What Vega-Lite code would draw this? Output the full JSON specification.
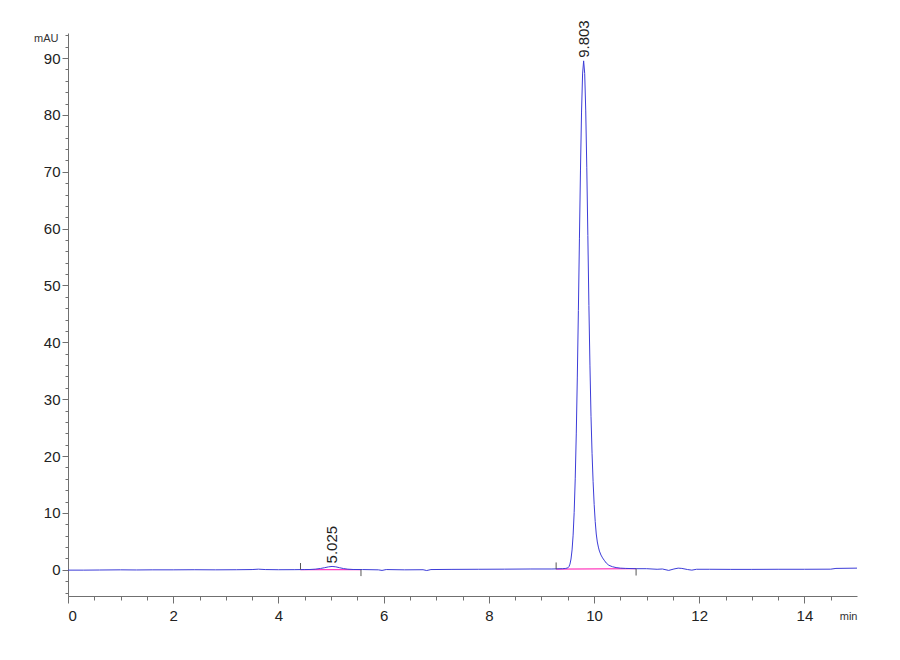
{
  "$schema": "https://vega.github.io/schema/vega-lite/v6.json",
  "width": 789,
  "height": 563,
  "autosize": {"type": "none"},
  "padding": {"left": 68, "top": 33, "right": 43, "bottom": 64},
  "background": "white",
  "config": {
    "view": {"stroke": null},
    "font": "Liberation Sans",
    "axis": {
      "grid": false,
      "domainColor": "#707070",
      "tickColor": "#707070",
      "labelColor": "#222222",
      "labelFont": "Liberation Sans",
      "labelFontSize": 15,
      "titleFont": "Liberation Sans",
      "titleFontSize": 11,
      "titleFontWeight": "normal",
      "titleColor": "#333333"
    }
  },
  "datasets": {
    "trace": [
      {"t": 0.0, "mau": -0.05}, {"t": 0.3, "mau": -0.05}, {"t": 0.6, "mau": -0.03},
      {"t": 1.0, "mau": 0.0}, {"t": 1.3, "mau": -0.02}, {"t": 1.6, "mau": 0.0},
      {"t": 2.0, "mau": 0.0}, {"t": 2.4, "mau": 0.02}, {"t": 2.8, "mau": 0.0},
      {"t": 3.2, "mau": 0.02}, {"t": 3.5, "mau": 0.05}, {"t": 3.62, "mau": 0.12},
      {"t": 3.75, "mau": 0.05}, {"t": 4.0, "mau": 0.02}, {"t": 4.3, "mau": 0.03},
      {"t": 4.5, "mau": 0.05}, {"t": 4.6, "mau": 0.06}, {"t": 4.7, "mau": 0.12},
      {"t": 4.8, "mau": 0.24}, {"t": 4.88, "mau": 0.38}, {"t": 4.95, "mau": 0.52},
      {"t": 5.02, "mau": 0.6}, {"t": 5.09, "mau": 0.53}, {"t": 5.16, "mau": 0.38},
      {"t": 5.24, "mau": 0.22}, {"t": 5.32, "mau": 0.12}, {"t": 5.42, "mau": 0.06},
      {"t": 5.6, "mau": 0.05}, {"t": 5.9, "mau": 0.0}, {"t": 5.97, "mau": -0.1},
      {"t": 6.05, "mau": 0.05}, {"t": 6.4, "mau": 0.0}, {"t": 6.75, "mau": 0.02},
      {"t": 6.82, "mau": -0.12}, {"t": 6.9, "mau": 0.05}, {"t": 7.3, "mau": 0.08},
      {"t": 7.8, "mau": 0.1}, {"t": 8.3, "mau": 0.12}, {"t": 8.8, "mau": 0.15},
      {"t": 9.2, "mau": 0.15}, {"t": 9.4, "mau": 0.2}, {"t": 9.463, "mau": 0.25},
      {"t": 9.503, "mau": 0.35}, {"t": 9.523, "mau": 0.55}, {"t": 9.543, "mau": 1.0},
      {"t": 9.563, "mau": 1.9}, {"t": 9.583, "mau": 3.5}, {"t": 9.603, "mau": 6.1},
      {"t": 9.623, "mau": 10.1}, {"t": 9.643, "mau": 16.0}, {"t": 9.663, "mau": 23.9},
      {"t": 9.683, "mau": 33.9}, {"t": 9.703, "mau": 45.6}, {"t": 9.723, "mau": 58.2},
      {"t": 9.743, "mau": 70.3}, {"t": 9.763, "mau": 80.5}, {"t": 9.783, "mau": 87.2},
      {"t": 9.803, "mau": 89.5}, {"t": 9.823, "mau": 87.3}, {"t": 9.843, "mau": 80.7},
      {"t": 9.863, "mau": 70.7}, {"t": 9.883, "mau": 58.8}, {"t": 9.903, "mau": 46.5},
      {"t": 9.923, "mau": 36.0}, {"t": 9.943, "mau": 27.0}, {"t": 9.963, "mau": 20.5},
      {"t": 9.983, "mau": 15.5}, {"t": 10.003, "mau": 11.5}, {"t": 10.023, "mau": 8.5},
      {"t": 10.043, "mau": 6.3}, {"t": 10.063, "mau": 4.9}, {"t": 10.083, "mau": 4.0},
      {"t": 10.103, "mau": 3.3}, {"t": 10.133, "mau": 2.6}, {"t": 10.163, "mau": 2.1},
      {"t": 10.193, "mau": 1.7}, {"t": 10.233, "mau": 1.2}, {"t": 10.283, "mau": 0.8},
      {"t": 10.35, "mau": 0.55}, {"t": 10.42, "mau": 0.4}, {"t": 10.5, "mau": 0.3},
      {"t": 10.6, "mau": 0.25}, {"t": 10.8, "mau": 0.2}, {"t": 11.0, "mau": 0.2},
      {"t": 11.2, "mau": 0.1}, {"t": 11.3, "mau": 0.15}, {"t": 11.42, "mau": -0.1},
      {"t": 11.52, "mau": 0.15}, {"t": 11.6, "mau": 0.3}, {"t": 11.67, "mau": 0.25},
      {"t": 11.78, "mau": 0.05}, {"t": 11.86, "mau": -0.05}, {"t": 11.95, "mau": 0.1},
      {"t": 12.2, "mau": 0.1}, {"t": 12.6, "mau": 0.08}, {"t": 13.0, "mau": 0.08},
      {"t": 13.5, "mau": 0.1}, {"t": 14.0, "mau": 0.1}, {"t": 14.5, "mau": 0.12},
      {"t": 14.6, "mau": 0.25}, {"t": 15.0, "mau": 0.3}
    ],
    "baselines": [
      {"start": 4.42, "end": 5.57, "y0": 0.04, "y1": 0.05},
      {"start": 9.28, "end": 10.8, "y0": 0.12, "y1": 0.2}
    ],
    "markers": [
      {"t": 4.42, "lo": 0.04, "hi": 1.2},
      {"t": 5.57, "lo": 0.05, "hi": -1.1},
      {"t": 9.28, "lo": 0.12, "hi": 1.3},
      {"t": 10.8, "lo": 0.2, "hi": -1.0}
    ],
    "peaks": [
      {"rt": 5.025, "height": 0.6, "label": "5.025"},
      {"rt": 9.803, "height": 89.5, "label": "9.803"}
    ]
  },
  "resolve": {"axis": {"x": "independent", "y": "independent"}},
  "layer": [
    {
      "data": {"name": "baselines"},
      "mark": {"type": "rule", "color": "#ff3fbf", "strokeWidth": 1.2},
      "encoding": {
        "x": {
          "field": "start", "type": "quantitative",
          "scale": {"domain": [0, 15], "nice": false, "zero": false},
          "axis": {
            "orient": "bottom",
            "values": [0, 0.5, 1, 1.5, 2, 2.5, 3, 3.5, 4, 4.5, 5, 5.5, 6, 6.5, 7, 7.5, 8, 8.5, 9, 9.5, 10, 10.5, 11, 11.5, 12, 12.5, 13, 13.5, 14, 14.5],
            "labels": false, "domain": false, "tickSize": 4, "title": null
          }
        },
        "x2": {"field": "end"},
        "y": {
          "field": "y0", "type": "quantitative",
          "scale": {"domain": [-4.6, 94.4], "nice": false, "zero": false},
          "axis": {
            "orient": "left",
            "values": [-4, -2, 0, 2, 4, 6, 8, 10, 12, 14, 16, 18, 20, 22, 24, 26, 28, 30, 32, 34, 36, 38, 40, 42, 44, 46, 48, 50, 52, 54, 56, 58, 60, 62, 64, 66, 68, 70, 72, 74, 76, 78, 80, 82, 84, 86, 88, 90, 92, 94],
            "labels": false, "domain": false, "tickSize": 3, "title": null
          }
        },
        "y2": {"field": "y1"}
      }
    },
    {
      "data": {"name": "trace"},
      "mark": {"type": "line", "color": "#3c3cd8", "strokeWidth": 1},
      "encoding": {
        "x": {
          "field": "t", "type": "quantitative",
          "axis": {
            "orient": "bottom",
            "values": [0, 2, 4, 6, 8, 10, 12, 14],
            "tickSize": 7, "labelPadding": 5,
            "title": "min", "titleX": 789, "titleY": 20,
            "titleAlign": "right", "titleBaseline": "middle"
          }
        },
        "y": {
          "field": "mau", "type": "quantitative",
          "axis": {
            "orient": "left",
            "values": [0, 10, 20, 30, 40, 50, 60, 70, 80, 90],
            "tickSize": 6, "labelPadding": 2,
            "title": "mAU", "titleAngle": 0, "titleX": -10, "titleY": 5,
            "titleAlign": "right", "titleBaseline": "middle"
          }
        }
      }
    },
    {
      "data": {"name": "markers"},
      "mark": {"type": "rule", "color": "#555555", "strokeWidth": 1},
      "encoding": {
        "x": {"field": "t", "type": "quantitative", "axis": null},
        "y": {"field": "lo", "type": "quantitative", "axis": null},
        "y2": {"field": "hi"}
      }
    },
    {
      "data": {"name": "peaks"},
      "mark": {
        "type": "text", "angle": 270, "align": "left", "baseline": "middle",
        "dx": 3, "fontSize": 15, "font": "Liberation Sans", "color": "#222222"
      },
      "encoding": {
        "x": {"field": "rt", "type": "quantitative", "axis": null},
        "y": {"field": "height", "type": "quantitative", "axis": null},
        "text": {"field": "label"}
      }
    }
  ]
}
